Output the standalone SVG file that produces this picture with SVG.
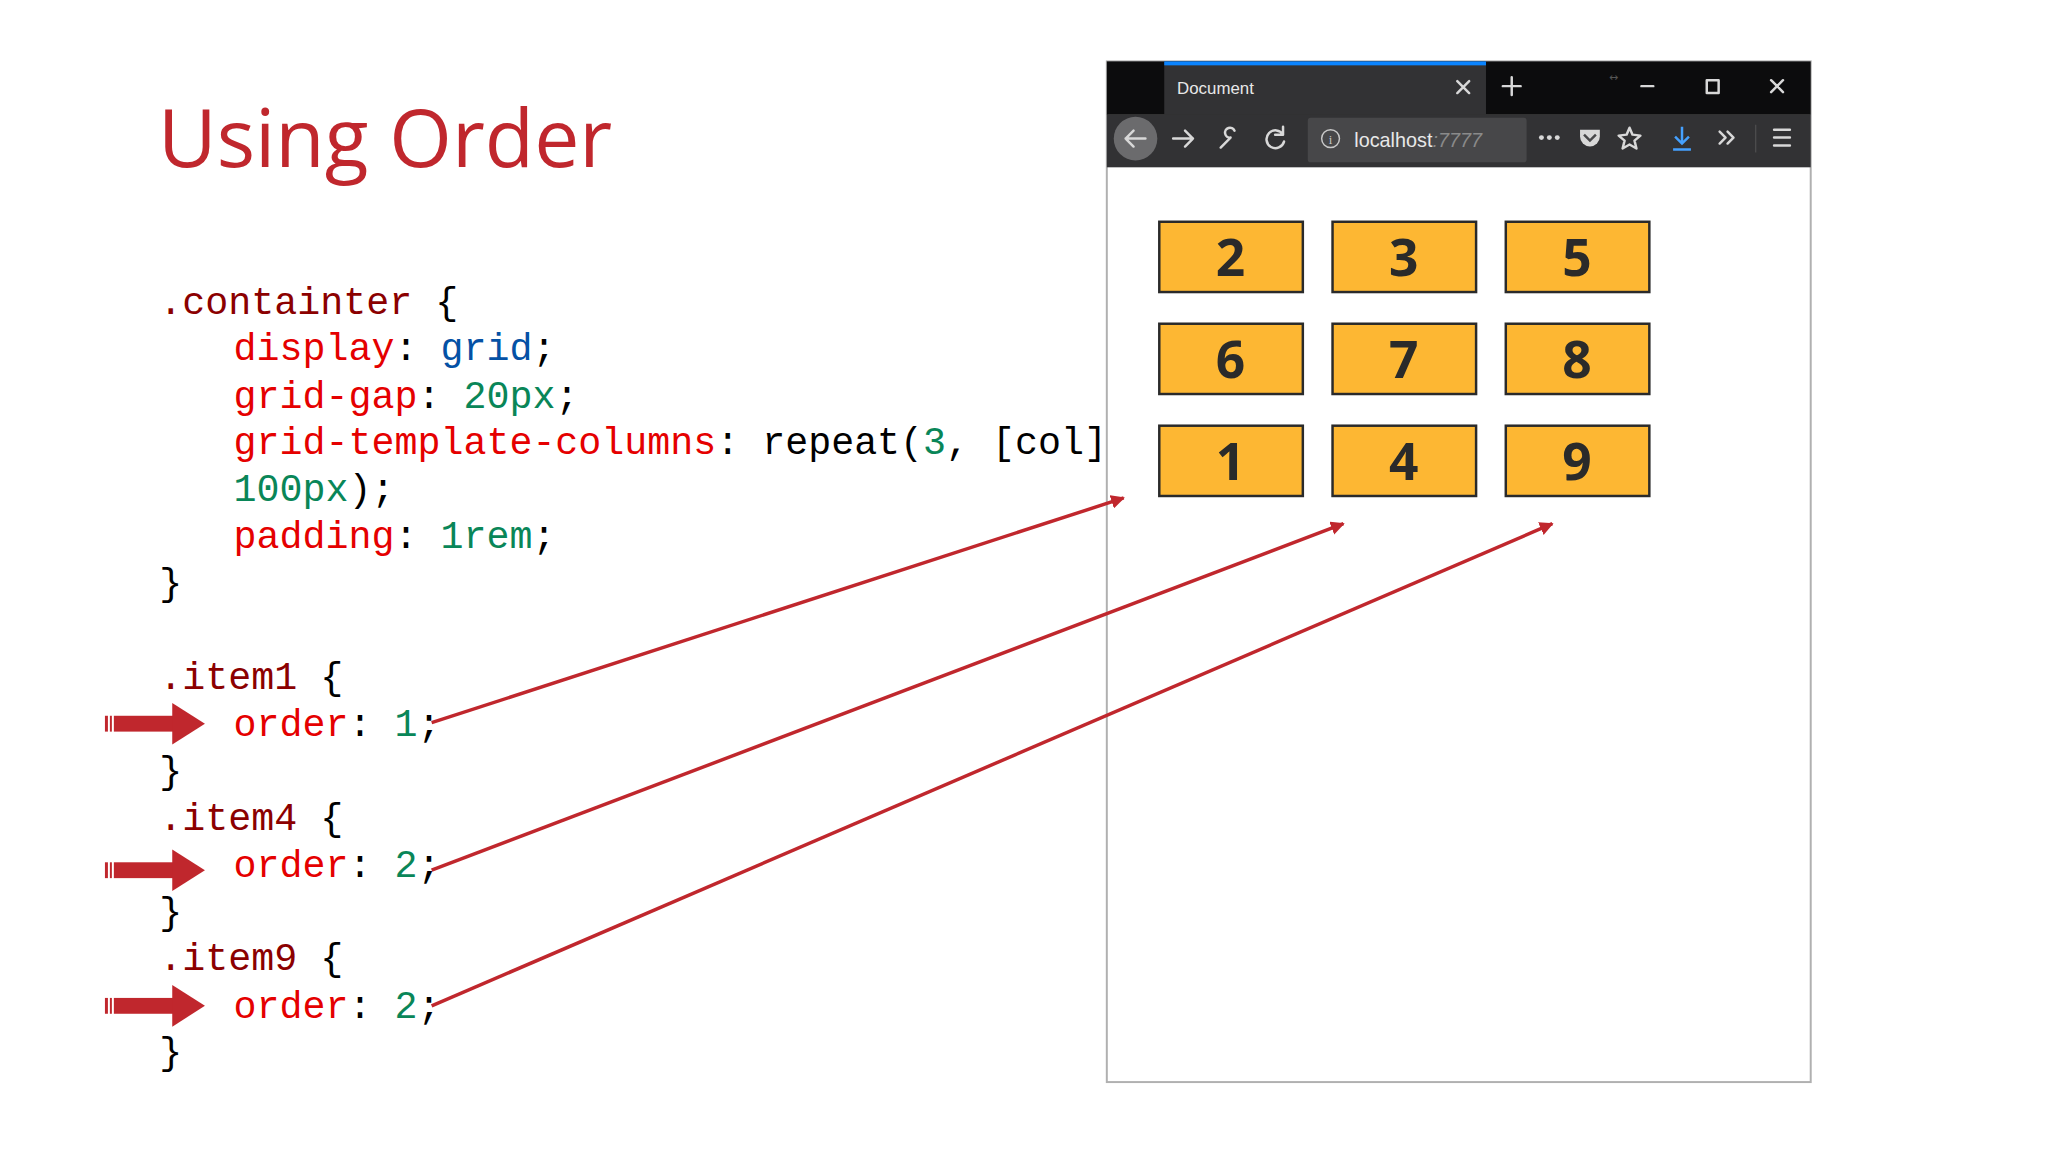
<svg xmlns="http://www.w3.org/2000/svg" width="2048" height="1152" viewBox="0 0 2048 1152">
<style>
.code{font-family:"Liberation Mono","DejaVu Sans Mono",monospace;font-size:38.7px;}
.sel{fill:#8b0000}.prop{fill:#e50000}.val{fill:#098658}.kw{fill:#0451a5}.p{fill:#000}
.box rect{fill:#fdb733;stroke:#2a2a2a;stroke-width:2.5}
.box text{font-family:"Open Sans","Liberation Sans",sans-serif;font-weight:bold;font-size:52px;fill:#2a2a2a;text-anchor:middle}
.ui{font-family:"Liberation Sans","DejaVu Sans",sans-serif;fill:#e8e8e8}
.ic{stroke:#d8d8d8;stroke-width:2.5;fill:none;stroke-linecap:round;stroke-linejoin:round}
.conn{stroke:#c0272d;stroke-width:3.5;fill:none}
</style>
<defs>
<marker id="ah" viewBox="0 0 10 10" refX="9" refY="5" markerWidth="4" markerHeight="4" orient="auto"><path d="M0,0 L10,5 L0,10 z" fill="#c0272d"/></marker>
<g id="bigArrow"><rect x="0" y="-8" width="3" height="16" fill="#c0272d"/><rect x="5" y="-8" width="2" height="16" fill="#c0272d"/><rect x="9" y="-8" width="61" height="16" fill="#c0272d"/><path d="M68,-21 L101,0 L68,21 z" fill="#c0272d"/></g>
</defs>
<rect width="2048" height="1152" fill="#fff"/>
<text x="158" y="167" font-family="Open Sans,Liberation Sans,sans-serif" font-size="80.5" fill="#c0272d">Using Order</text>
<g transform="scale(0.99)">
<g id="code" class="code">
<text x="161" y="317"><tspan class="sel">.containter</tspan><tspan class="p"> {</tspan></text>
<text x="236" y="364"><tspan class="prop">display</tspan><tspan class="p">: </tspan><tspan class="kw">grid</tspan><tspan class="p">;</tspan></text>
<text x="236" y="412"><tspan class="prop">grid-gap</tspan><tspan class="p">: </tspan><tspan class="val">20px</tspan><tspan class="p">;</tspan></text>
<text x="236" y="459"><tspan class="prop">grid-template-columns</tspan><tspan class="p">: repeat(</tspan><tspan class="val">3</tspan><tspan class="p">, [col]</tspan></text>
<text x="236" y="506"><tspan class="val">100px</tspan><tspan class="p">);</tspan></text>
<text x="236" y="554"><tspan class="prop">padding</tspan><tspan class="p">: </tspan><tspan class="val">1rem</tspan><tspan class="p">;</tspan></text>
<text x="161" y="601" class="p">}</text>
<text x="161" y="696"><tspan class="sel">.item1</tspan><tspan class="p"> {</tspan></text>
<text x="236" y="743"><tspan class="prop">order</tspan><tspan class="p">: </tspan><tspan class="val">1</tspan><tspan class="p">;</tspan></text>
<text x="161" y="791" class="p">}</text>
<text x="161" y="838"><tspan class="sel">.item4</tspan><tspan class="p"> {</tspan></text>
<text x="236" y="886"><tspan class="prop">order</tspan><tspan class="p">: </tspan><tspan class="val">2</tspan><tspan class="p">;</tspan></text>
<text x="161" y="933" class="p">}</text>
<text x="161" y="980"><tspan class="sel">.item9</tspan><tspan class="p"> {</tspan></text>
<text x="236" y="1028"><tspan class="prop">order</tspan><tspan class="p">: </tspan><tspan class="val">2</tspan><tspan class="p">;</tspan></text>
<text x="161" y="1075" class="p">}</text>
</g>
<use href="#bigArrow" x="106" y="731"/>
<use href="#bigArrow" x="106" y="879"/>
<use href="#bigArrow" x="106" y="1016"/>

<g id="browser">
<rect x="1118" y="62" width="711" height="1031" fill="#fff" stroke="#b0b0b0" stroke-width="2"/>
<rect x="1118" y="62" width="711" height="54" fill="#0c0c0d"/>
<rect x="1176" y="62" width="325" height="54" fill="#323234"/>
<rect x="1176" y="62" width="325" height="4" fill="#0a84ff"/>
<text class="ui" x="1189" y="95" font-size="17">Document</text>
<path class="ic" d="M1472,82 l12,12 M1484,82 l-12,12" stroke-width="2"/>
<path class="ic" d="M1527,78 v18 M1518,87 h18" stroke-width="2.5"/>
<text x="1630" y="82" font-family="DejaVu Sans,sans-serif" font-size="11" fill="#555" text-anchor="middle">↔</text>
<path class="ic" d="M1658,87 h12 M1724,81 h12 v13 h-12 z M1789,81 l12,12 M1801,81 l-12,12" stroke-width="2"/>
<rect x="1118" y="116" width="711" height="53" fill="#323234"/>
<circle cx="1147" cy="140" r="22" fill="#6b6b6d"/>
<path class="ic" d="M1137,140 h20 M1145,132 l-8,8 l8,8" stroke="#f0f0f0"/>
<path class="ic" d="M1185,140 h20 M1197,132 l8,8 l-8,8" stroke="#8a8a8a"/>
<path class="ic" d="M1233,149 l10,-10 M1243,139 a5,5 0 1 1 4,-7" />
<path class="ic" d="M1296,136 a9,9 0 1 0 1,7 M1296,128 v8 h-8"/>
<rect x="1321" y="119" width="221" height="45" rx="3" fill="#474749"/>
<circle cx="1344" cy="140" r="9" fill="none" stroke="#c8c8c8" stroke-width="1.5"/>
<text x="1344" y="145" font-family="Liberation Serif,serif" font-size="13" fill="#c8c8c8" text-anchor="middle">i</text>
<text class="ui" x="1368" y="148" font-size="20">localhost<tspan fill="#8a8a8a" font-style="italic">:7777</tspan></text>
<g fill="#d8d8d8"><circle cx="1557" cy="139" r="2.5"/><circle cx="1565" cy="139" r="2.5"/><circle cx="1573" cy="139" r="2.5"/></g>
<path d="M1596,131 h20 v7 a10,10 0 0 1 -20,0 z" fill="#d8d8d8"/>
<path d="M1600,136 l6,6 l6,-6" stroke="#474749" stroke-width="2.5" fill="none"/>
<path class="ic" d="M1646,129 l3,7 l8,1 l-6,5 l2,8 l-7,-4 l-7,4 l2,-8 l-6,-5 l8,-1 z" stroke-width="2"/>
<path d="M1699,128 v17 M1692,138 l7,7 l7,-7 M1690,151 h18" stroke="#45a1ff" stroke-width="2.5" fill="none"/>
<path class="ic" d="M1737,133 l6,6 l-6,6 M1745,133 l6,6 l-6,6"/>
<rect x="1773" y="126" width="1" height="28" fill="#555"/>
<path class="ic" d="M1792,131 h16 M1792,139 h16 M1792,147 h16"/>
</g>

<g id="n2" class="box"><rect x="1171" y="224" width="145" height="71"/><text x="1243" y="279">2</text></g>
<g id="n3" class="box"><rect x="1346" y="224" width="145" height="71"/><text x="1418" y="279">3</text></g>
<g id="n5" class="box"><rect x="1521" y="224" width="145" height="71"/><text x="1593" y="279">5</text></g>
<g id="n6" class="box"><rect x="1171" y="327" width="145" height="71"/><text x="1243" y="382">6</text></g>
<g id="n7" class="box"><rect x="1346" y="327" width="145" height="71"/><text x="1418" y="382">7</text></g>
<g id="n8" class="box"><rect x="1521" y="327" width="145" height="71"/><text x="1593" y="382">8</text></g>
<g id="n1" class="box"><rect x="1171" y="430" width="145" height="71"/><text x="1243" y="485">1</text></g>
<g id="n4" class="box"><rect x="1346" y="430" width="145" height="71"/><text x="1418" y="485">4</text></g>
<g id="n9" class="box"><rect x="1521" y="430" width="145" height="71"/><text x="1593" y="485">9</text></g>

<g id="connectors">
<path class="conn" d="M436,730 L1135,503" marker-end="url(#ah)"/>
<path class="conn" d="M436,879 L1357,529" marker-end="url(#ah)"/>
<path class="conn" d="M436,1016 L1568,529" marker-end="url(#ah)"/>
</g>
</g>
</svg>
